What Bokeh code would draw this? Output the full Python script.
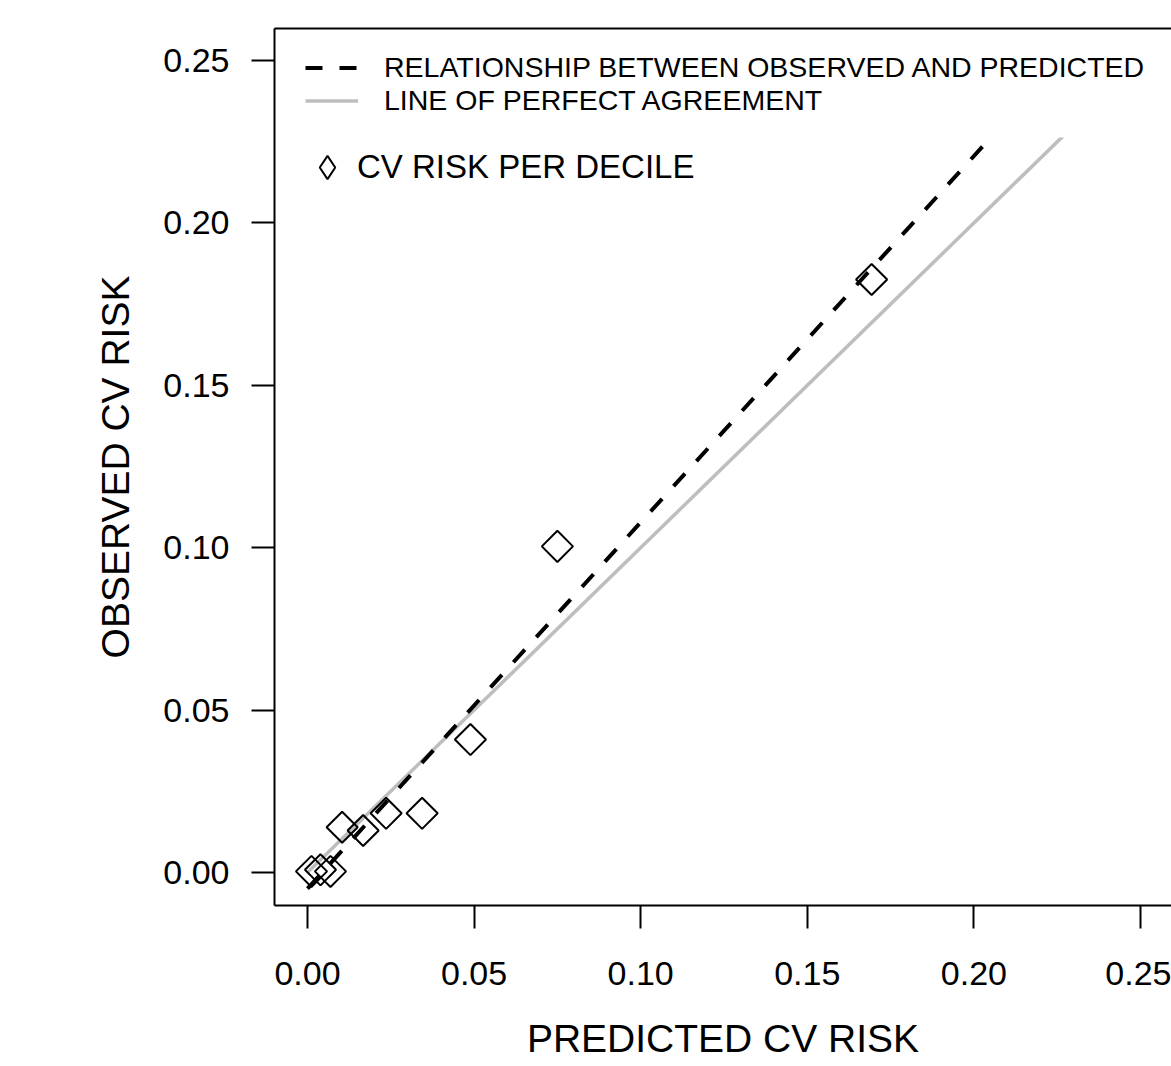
import math
from bokeh.plotting import figure
from bokeh.models import (Range1d, LinearAxis, FixedTicker, Legend, LegendItem,
                          NumeralTickFormatter, BoxAnnotation)
from bokeh.embed import file_html
from bokeh.resources import INLINE

# ---- data ----
predicted = [0.0012, 0.0039, 0.0069, 0.0104, 0.0167, 0.0236, 0.0344, 0.0489, 0.0750, 0.1693]
observed = [0.0003, 0.0008, 0.0003, 0.0139, 0.0129, 0.0182, 0.0182, 0.0409, 0.1004, 0.1826]
fit_x = [0.0, 0.26]
fit_y = [-0.005, 0.2883]
agree_x = [0.0, 0.26]
agree_y = [0.0, 0.26]
ticks = [0.0, 0.05, 0.10, 0.15, 0.20, 0.25]

FONT = "Liberation Sans"

p = figure(width=1171, height=1066, output_backend="svg", toolbar_location=None,
           x_range=Range1d(-0.0099, 0.2593), y_range=Range1d(-0.0102, 0.2599),
           min_border_left=274, min_border_right=0, min_border_top=28, min_border_bottom=161,
           x_axis_label="PREDICTED CV RISK", y_axis_label="OBSERVED CV RISK")
p.outline_line_color = None
p.grid.visible = False
p.background_fill_color = "white"
p.border_fill_color = "white"

for ax in (p.xaxis[0], p.yaxis[0]):
    ax.ticker = FixedTicker(ticks=ticks)
    ax.formatter = NumeralTickFormatter(format="0.00")
    ax.axis_line_width = 2
    ax.axis_line_color = "black"
    ax.major_tick_line_width = 2
    ax.major_tick_line_color = "black"
    ax.major_tick_out = 23
    ax.major_tick_in = 0
    ax.minor_tick_line_color = None
    ax.major_label_text_font = FONT
    ax.major_label_text_font_size = "34px"
    ax.major_label_text_color = "black"
    ax.axis_label_text_font = FONT
    ax.axis_label_text_font_size = "39px"
    ax.axis_label_text_font_style = "normal"
    ax.axis_label_text_color = "black"

p.xaxis[0].major_label_standoff = 33
p.xaxis[0].axis_label_standoff = 29
p.yaxis[0].major_label_standoff = 22
p.yaxis[0].major_label_orientation = "horizontal"
p.yaxis[0].axis_label_standoff = 23

top_axis = LinearAxis(ticker=FixedTicker(ticks=[]), major_tick_out=0, major_tick_in=0,
                      minor_tick_out=0, minor_tick_in=0, major_label_text_font_size="0px",
                      axis_line_width=2, axis_line_color="black")
p.add_layout(top_axis, "above")

r_agree = p.line(agree_x, agree_y, line_color="#bebebe", line_width=3.5)
r_fit = p.line(fit_x, fit_y, line_color="black", line_width=4, line_dash="17 17")
r_pts = p.scatter(predicted, observed, marker="square", size=22, angle=math.pi / 4,
                  fill_color=None, line_color="black", line_width=2)
# legend key for the points (legend keys ignore marker angle); NaN so nothing is drawn in the plot
r_key = p.scatter(x=[float("nan")], y=[float("nan")], marker="diamond",
                  fill_color=None, line_color="black", line_width=2)

# white mask behind the legend (as the opaque legend box in the original)
mask = BoxAnnotation(left=11, left_units="screen", bottom=768, bottom_units="screen",
                     fill_color="white", fill_alpha=1.0, line_color=None, level="glyph")
p.add_layout(mask)

leg1 = Legend(items=[LegendItem(label="RELATIONSHIP BETWEEN OBSERVED AND PREDICTED", renderers=[r_fit]),
                     LegendItem(label="LINE OF PERFECT AGREEMENT", renderers=[r_agree])],
              location=(31, 788), margin=0, padding=10, spacing=0,
              glyph_width=53, glyph_height=31, label_height=31, label_standoff=26,
              label_text_font=FONT, label_text_font_size="28.5px", label_text_color="black",
              background_fill_color="white", background_fill_alpha=1.0, border_line_color=None)
leg2 = Legend(items=[LegendItem(label="CV RISK PER DECILE", renderers=[r_key])],
              location=(24, 709), margin=0, padding=2, spacing=0,
              glyph_width=58, glyph_height=58, label_height=40, label_standoff=1,
              label_text_font=FONT, label_text_font_size="33px", label_text_color="black",
              background_fill_color="white", background_fill_alpha=1.0, border_line_color=None)
p.add_layout(leg1)
p.add_layout(leg2)

open("out.html", "w").write(file_html(p, INLINE))
